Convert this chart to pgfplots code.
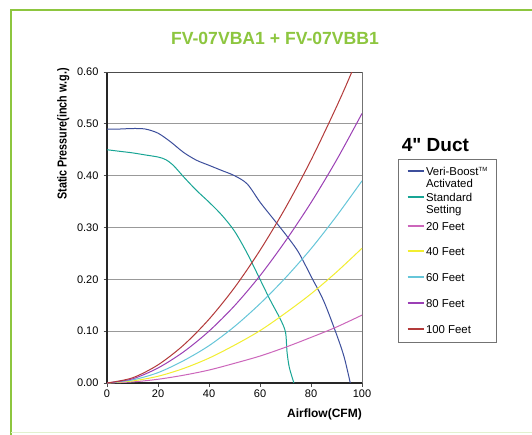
\documentclass[border=0pt]{standalone}
\usepackage{fontspec}
\setmainfont{Liberation Sans}[Ligatures=TeXOff]
\usepackage{pgfplots}
\pgfplotsset{compat=1.18}

\definecolor{framegreen}{HTML}{8DC63F}
\definecolor{veriblue}{HTML}{3D4F9C}
\definecolor{stdteal}{HTML}{18A595}
\definecolor{ftpink}{HTML}{CC66BB}
\definecolor{ftyellow}{HTML}{F2EE30}
\definecolor{ftcyan}{HTML}{66C6D9}
\definecolor{ftpurple}{HTML}{9B3FB5}
\definecolor{ftred}{HTML}{B33A3A}

\begin{document}
\begin{tikzpicture}[x=1pt,y=1pt]
\useasboundingbox (0,0) rectangle (532,-434);
\fill[white] (0,0) rectangle (532,-434);
% green frame
\draw[framegreen, line width=2pt] (11,-440) -- (11,-10) -- (540,-10);
\draw[framegreen!25, line width=1pt] (11,-432) -- (540,-432);

\node[font=\fontsize{17.6}{20}\selectfont\bfseries, text=framegreen] at (275,-38.3) {FV-07VBA1 + FV-07VBB1};
\node[anchor=west, inner sep=0pt, font=\fontsize{19}{22}\selectfont\bfseries] at (401.7,-145) {4" Duct};

\begin{axis}[
    at={(107pt,-383pt)}, anchor=south west,
    scale only axis,
    width=255pt, height=311pt,
    xmin=0, xmax=100, ymin=0, ymax=0.6,
    axis x line*=bottom, axis y line*=left,
    axis line style={-, line width=1.3pt, black!85},
    xtick={0,20,40,60,80,100},
    ytick={0,0.1,0.2,0.3,0.4,0.5},
    yticklabels={0.00,0.10,0.20,0.30,0.40,0.50},
    extra y ticks={0.6}, extra y tick labels={0.60},
    extra y tick style={grid=major, major grid style={black!70, line width=1pt}},
    extra x ticks={100}, extra x tick labels={},
    extra x tick style={grid=major, major grid style={black!55, line width=1pt}},
    ymajorgrids,
    major grid style={black!40, line width=1pt},
    tick align=outside, major tick length=3.5pt,
    tick style={black!70, line width=0.8pt},
    ticklabel style={font=\fontsize{11}{13}\selectfont},
    yticklabel style={xshift=-1.5pt},
    /pgf/number format/assume math mode=true,
    xlabel={Airflow(CFM)},
    xlabel style={at={(axis description cs:1,0)}, anchor=base east, yshift=-34pt,
                  inner sep=0pt, font=\fontsize{12}{14}\selectfont\bfseries},
    ylabel={\scalebox{0.83}[1]{Static Pressure(inch w.g.)}},
    ylabel style={at={(axis description cs:-0.1714,0.8006)}, anchor=center,
                  inner sep=0pt, font=\fontsize{13}{15}\selectfont\bfseries},
    legend style={at={(1.1424,0.7193)}, anchor=north west,
                  draw=black!55, line width=0.6pt,
                  inner xsep=8pt, inner ysep=6.7pt, column sep=1pt,
                  cells={anchor=base west},
                  nodes={inner sep=0pt, text depth=},
                  font=\fontsize{11.4}{12}\selectfont},
    legend image code/.code={\draw[#1, line width=1.8pt] (0pt,4pt) -- (16.6pt,4pt);},
    every axis plot/.append style={line width=1pt, smooth, tension=0.5},
]

\addplot[draw=veriblue] coordinates {
 (0,0.490) (5,0.490) (10,0.491) (15,0.490) (20,0.482) (25,0.465) (30,0.445)
 (35,0.430) (40,0.420) (45,0.410) (50,0.400) (55,0.384) (60,0.349) (65,0.318)
 (70,0.287) (75,0.253) (80,0.206) (85,0.158) (90,0.094) (93,0.050) (95.4,0.000)};
\addlegendentry{\parbox[t]{62pt}{\baselineskip=12pt\rule{0pt}{9pt}\mbox{Veri-Boost\textsuperscript{\fontsize{6}{6}\selectfont TM}}\\Activated\rule[-2pt]{0pt}{2pt}}}

\addplot[draw=stdteal] coordinates {
 (0,0.450) (5,0.447) (10,0.444) (15,0.440) (20,0.436) (23,0.431) (26,0.420)
 (30,0.398) (35,0.372) (40,0.349) (45,0.324) (50,0.293) (55,0.250) (60,0.200)
 (64,0.160) (68,0.123) (70,0.098) (70.6,0.060) (71.5,0.030) (73.3,0.000)};
\addlegendentry{\parbox[t]{62pt}{\baselineskip=12pt\rule{0pt}{12pt}Standard\\Setting\rule[-3pt]{0pt}{3pt}}}

\addplot[draw=ftpink] coordinates {
 (0,0) (10,0.0021) (20,0.0072) (30,0.015) (40,0.025) (50,0.038) (60,0.052)
 (70,0.069) (80,0.088) (90,0.108) (100,0.131)};
\addlegendentry{\rule[-12pt]{0pt}{26pt}20 Feet}

\addplot[draw=ftyellow] coordinates {
 (0,0) (10,0.004) (20,0.013) (30,0.028) (40,0.048) (50,0.073) (60,0.101)
 (70,0.135) (80,0.172) (90,0.214) (100,0.260)};
\addlegendentry{\rule[-13pt]{0pt}{26pt}40 Feet}

\addplot[draw=ftcyan] coordinates {
 (0,0) (10,0.006) (20,0.020) (30,0.043) (40,0.072) (50,0.109) (60,0.153)
 (70,0.203) (80,0.259) (90,0.322) (100,0.390)};
\addlegendentry{\rule[-13pt]{0pt}{26pt}60 Feet}

\addplot[draw=ftpurple] coordinates {
 (0,0) (10,0.008) (20,0.029) (30,0.060) (40,0.100) (50,0.149) (60,0.207)
 (70,0.274) (80,0.348) (90,0.430) (100,0.520)};
\addlegendentry{\rule[-13pt]{0pt}{26pt}80 Feet}

\addplot[draw=ftred] coordinates {
 (0,0) (10,0.010) (20,0.035) (30,0.073) (40,0.123) (50,0.184) (60,0.256)
 (70,0.338) (80,0.430) (90,0.533) (96,0.600) (100,0.650)};
\addlegendentry{\rule[-2.5pt]{0pt}{15.5pt}100 Feet}

\end{axis}
\end{tikzpicture}
\end{document}
